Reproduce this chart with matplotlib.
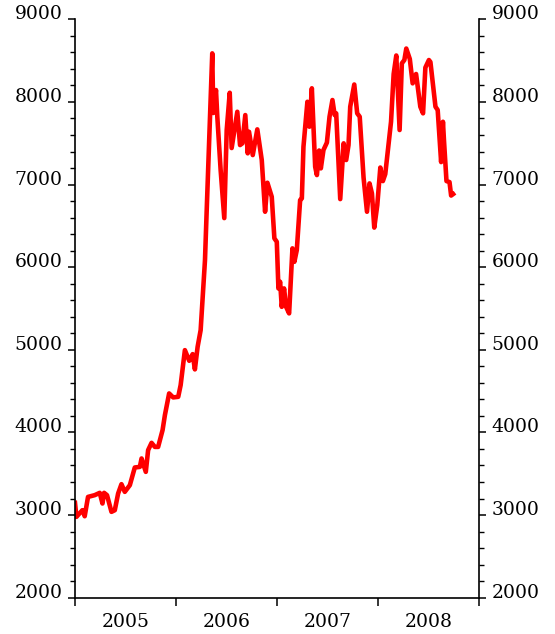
import matplotlib
matplotlib.use("Agg")
import matplotlib.pyplot as plt
from matplotlib.ticker import MultipleLocator, FixedLocator, NullFormatter

# fractional year
t = [2005.000, 2005.014, 2005.073, 2005.096, 2005.129, 2005.195, 2005.245, 2005.272,
     2005.288, 2005.317, 2005.361, 2005.394, 2005.427, 2005.460, 2005.493, 2005.543,
     2005.592, 2005.642, 2005.659, 2005.701, 2005.724, 2005.758, 2005.791, 2005.823,
     2005.867, 2005.890, 2005.932, 2005.972, 2006.022, 2006.046, 2006.088, 2006.131,
     2006.165, 2006.187, 2006.214, 2006.244, 2006.287, 2006.303, 2006.359, 2006.369,
     2006.396, 2006.409, 2006.442, 2006.478, 2006.502, 2006.532, 2006.551, 2006.607,
     2006.634, 2006.657, 2006.686, 2006.710, 2006.723, 2006.760, 2006.805, 2006.849,
     2006.882, 2006.905, 2006.948, 2006.974, 2006.998, 2007.014, 2007.031, 2007.047,
     2007.070, 2007.090, 2007.120, 2007.153, 2007.172, 2007.196, 2007.229, 2007.246,
     2007.262, 2007.301, 2007.321, 2007.345, 2007.378, 2007.395, 2007.417, 2007.434,
     2007.460, 2007.494, 2007.520, 2007.549, 2007.571, 2007.586, 2007.626, 2007.660,
     2007.685, 2007.708, 2007.725, 2007.765, 2007.794, 2007.819, 2007.857, 2007.891,
     2007.916, 2007.940, 2007.963, 2007.993, 2008.023, 2008.048, 2008.072, 2008.105,
     2008.129, 2008.155, 2008.181, 2008.214, 2008.236, 2008.261, 2008.280, 2008.315,
     2008.343, 2008.377, 2008.419, 2008.446, 2008.469, 2008.504, 2008.519, 2008.569,
     2008.591, 2008.625, 2008.643, 2008.653, 2008.678, 2008.708, 2008.724, 2008.744]

values = [3148, 2978, 3059, 2986, 3220, 3241, 3269, 3140,
          3269, 3241, 3039, 3059, 3261, 3374, 3281, 3362,
          3576, 3583, 3685, 3523, 3786, 3874, 3825, 3825,
          4028, 4209, 4472, 4424, 4431, 4573, 4996, 4867,
          4948, 4763, 5036, 5238, 6086, 6655, 8588, 7866,
          8144, 7821, 7175, 6594, 7660, 8111, 7442, 7881,
          7478, 7499, 7841, 7378, 7639, 7357, 7668, 7297,
          6671, 7022, 6852, 6349, 6307, 5743, 5823, 5520,
          5743, 5520, 5441, 6228, 6065, 6207, 6812, 6833,
          7458, 8002, 7700, 8165, 7215, 7115, 7412, 7196,
          7418, 7508, 7821, 8023, 7841, 7862, 6824, 7499,
          7297, 7478, 7942, 8211, 7862, 7821, 7085, 6671,
          7014, 6893, 6479, 6752, 7206, 7042, 7127, 7499,
          7760, 8338, 8562, 7660, 8467, 8507, 8646, 8519,
          8225, 8338, 7942, 7862, 8416, 8507, 8483, 7942,
          7902, 7272, 7760, 7539, 7042, 7030, 6867, 6885]

years = [2005, 2006, 2007, 2008]
year_labels = ["2005", "2006", "2007", "2008"]
y_ticks = [2000, 3000, 4000, 5000, 6000, 7000, 8000, 9000]

fig = plt.figure(figsize=(5.55, 6.34), dpi=100)
ax = fig.add_axes([75 / 555, 1 - 597.7 / 634, 404 / 555, (597.7 - 19.3) / 634])

ax.plot(t, values, color="#ff0000", lw=3.3, solid_joinstyle="round")

ax.set_xlim(2005, 2009)
ax.set_ylim(2000, 9000)

font = "DejaVu Serif"

ax.spines["top"].set_visible(False)
for s in ["left", "right", "bottom"]:
    ax.spines[s].set_linewidth(1.2)

# y ticks both sides
ax.set_yticks(y_ticks)
ax.yaxis.set_minor_locator(MultipleLocator(200))
ax.tick_params(axis="y", which="major", left=True, right=True, labelleft=True,
               labelright=True, direction="out", length=5, width=1.1, pad=4,
               labelsize=13.5)
ax.tick_params(axis="y", which="minor", left=True, right=True, direction="out",
               length=3.5, width=1.0)
for tk in ax.yaxis.get_major_ticks():
    tk.label1.set_fontfamily(font)
    tk.label2.set_fontfamily(font)
    tk.label1.set_verticalalignment("baseline")
    tk.label2.set_verticalalignment("baseline")

# x ticks at year boundaries, labels mid-year
ax.xaxis.set_major_locator(FixedLocator([2005, 2006, 2007, 2008, 2009]))
ax.xaxis.set_major_formatter(NullFormatter())
ax.xaxis.set_minor_locator(FixedLocator([y + 0.5 for y in years]))
ax.set_xticklabels(year_labels, minor=True)
ax.tick_params(axis="x", which="major", direction="out", length=6, width=1.1)
ax.tick_params(axis="x", which="minor", length=0, pad=11, labelsize=13.5)
for lab in ax.get_xticklabels(minor=True):
    lab.set_fontfamily(font)

fig.savefig("out.png", dpi=100)
